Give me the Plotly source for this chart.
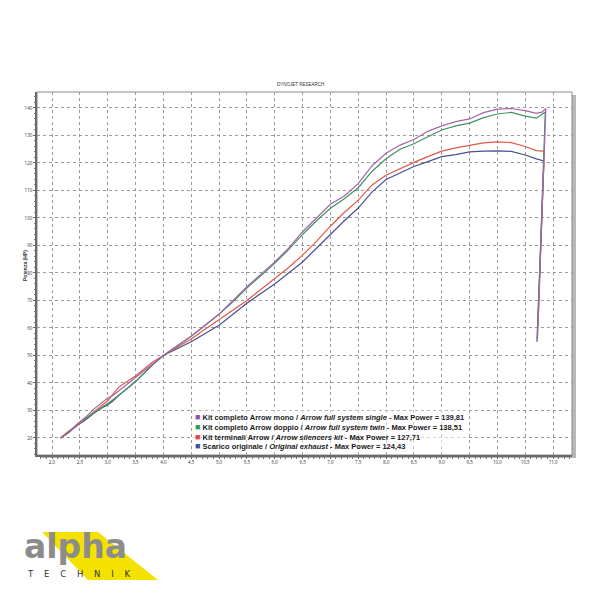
import plotly.graph_objects as go

# ---- data ----
rpm_main = [2.15, 2.3, 2.45, 2.6, 2.75, 2.9, 3.0, 3.1, 3.2, 3.35, 3.5, 3.65, 3.8, 4.0,
            4.25, 4.5, 4.75, 5.0, 5.25, 5.5, 5.75, 6.0, 6.25, 6.5, 6.75, 7.0, 7.25, 7.5,
            7.75, 8.0, 8.25, 8.5, 8.75, 9.0, 9.25, 9.5, 9.75, 10.0, 10.25, 10.5, 10.7]

mono_x = rpm_main + [10.8, 10.87, 10.72]
mono_y = [20, 22, 25, 27.5, 30.5, 33, 34.5, 35.5, 37, 39.5, 42, 44.5, 47, 50,
          53.5, 57, 61, 65, 70, 75, 79.5, 84, 89, 95, 100, 105, 108, 112.5,
          119, 123.5, 126.5, 128.5, 131.5, 133.5, 135, 136, 138.3, 139.6, 139.8, 139, 138,
          138.5, 139.8, 56]

doppio_x = rpm_main + [10.8, 10.86, 10.72]
doppio_y = [20, 22, 25, 27, 29, 31, 32.5, 34, 35.5, 38, 40.5, 43.5, 46.5, 50,
            53.5, 57, 61, 65, 69.5, 74.5, 79, 83.5, 88.5, 94, 99, 103.5, 107, 111,
            117, 121.5, 125, 127, 129.5, 132, 133.5, 134.5, 136.5, 137.8, 138.4, 137, 136.3,
            137.5, 138.5, 58]

terminali_x = rpm_main + [10.82, 10.84, 10.73]
terminali_y = [20, 22.5, 24.5, 27, 29.5, 32, 33.5, 36, 38.5, 40.5, 42.5, 45, 47.5, 50,
               53, 56, 59.5, 63, 66.5, 70, 74, 78, 82, 86.5, 91.5, 97, 102, 106.5,
               112, 115.5, 118, 120.2, 122.3, 124.3, 125.5, 126.5, 127.3, 127.7, 127.4, 126, 124.5,
               124.3, 124, 61]

originale_x = rpm_main + [10.82, 10.835, 10.71]
originale_y = [20, 22, 24.5, 26.5, 29, 31, 32, 33.5, 35.5, 38, 40.5, 43.5, 46.5, 50,
               52.5, 55, 58, 61, 65, 69, 72.5, 76, 80, 84, 89, 94, 99, 103.6,
               109.5, 114, 116.5, 118.7, 120.5, 122.3, 123, 124, 124.3, 124.4, 124.2, 122.9, 121.5,
               120.8, 120.3, 55]

series_names = [
    "Kit completo Arrow mono / <i>Arrow full system single</i> - Max Power = 139,81",
    "Kit completo Arrow doppio / <i>Arrow full system twin</i> - Max Power = 138,51",
    "Kit terminali Arrow / <i>Arrow silencers kit</i> - Max Power = 127,71",
    "Scarico originale / <i>Original exhaust</i> - Max Power = 124,43",
]
line_colors = ["#a565a8", "#3f9463", "#df5a48", "#4a4f92"]
legend_colors = ["#9c509f", "#2f9a5c", "#e24848", "#4353a3"]

x_ticks = [2.0 + 0.5 * i for i in range(19)]
x_ticktext = [f"{v:.1f}".replace(".", ",") for v in x_ticks]
y_ticks = list(range(20, 150, 10))

fig = go.Figure()
data = [(originale_x, originale_y, 3), (terminali_x, terminali_y, 2),
        (doppio_x, doppio_y, 1), (mono_x, mono_y, 0)]
for xs, ys, idx in data:
    fig.add_trace(go.Scatter(x=xs, y=ys, mode="lines", name=series_names[idx],
                             line=dict(color=line_colors[idx], width=1.2),
                             showlegend=False, hoverinfo="skip"))

OFF = 8  # page body margin
W = H = 600
L = 37 - OFF
T = 92 - OFF
R = W - (572 - OFF)
B = H - (455 - OFF)
pw = W - L - R
ph = H - T - B

def px_x(px):
    return (px - OFF - L) / pw

def px_y(py):
    return (H - B - (py - OFF)) / ph

shapes = [
    dict(type="rect", xref="paper", yref="paper", x0=px_x(40), x1=px_x(576),
         y0=px_y(458), y1=px_y(95), line=dict(width=0), fillcolor="#b8b8b8", layer="below"),
    dict(type="rect", xref="paper", yref="paper", x0=0, x1=1, y0=0, y1=1,
         line=dict(color="#8a8a8a", width=1), fillcolor="white", layer="below"),
    dict(type="path", xref="paper", yref="paper",
         path=f"M {px_x(42)},{px_y(532)} L {px_x(98)},{px_y(532)} L {px_x(158)},{px_y(580)} "
              f"L {px_x(88)},{px_y(580)} Z",
         fillcolor="#f5e100", line=dict(width=0), layer="above"),
]

legend_lines = "<br>".join(
    f"<span style='color:{c};font-size:9px'>■</span> {n}" for c, n in zip(legend_colors, series_names))

nb = "\u00a0" * 4
annotations = [
    dict(text="DYNOJET RESEARCH", xref="paper", yref="paper", x=px_x(300), y=px_y(84),
         xanchor="center", yanchor="middle",
         showarrow=False, font=dict(size=4.5, color="#333", family="Liberation Sans")),
    dict(text="<b>Potenza (HP)</b>", xref="paper", yref="paper", x=px_x(25), y=px_y(266),
         xanchor="center", yanchor="middle",
         textangle=-90, showarrow=False, font=dict(size=5, color="#333", family="Liberation Sans")),
    dict(text=f"<b>{legend_lines}</b>", xref="paper", yref="paper", x=px_x(193), y=px_y(410),
         xanchor="left", yanchor="top", align="left", showarrow=False,
         bgcolor="rgba(255,255,255,0.55)",
         font=dict(size=7.5, color="#1a1a1a", family="Liberation Sans")),
    dict(text="<b>alpha</b>", xref="paper", yref="paper", x=px_x(75), y=px_y(546),
         xanchor="center", yanchor="middle",
         showarrow=False, font=dict(size=33, color="#8c8c8c", family="DejaVu Sans")),
    dict(text=nb.join("TECHNIK"),
         xref="paper", yref="paper", x=px_x(79), y=px_y(574),
         xanchor="center", yanchor="middle",
         showarrow=False, font=dict(size=8.5, color="#333", family="DejaVu Sans")),
]

fig.update_layout(
    width=W, height=H,
    margin=dict(l=L, r=R, t=T, b=B),
    paper_bgcolor="white",
    plot_bgcolor="rgba(0,0,0,0)",
    shapes=shapes,
    annotations=annotations,
    showlegend=False,
    xaxis=dict(range=[1.73, 11.34], tickvals=x_ticks, ticktext=x_ticktext,
               tickfont=dict(size=4.5, color="#333"), showgrid=True,
               gridcolor="#9a9a9a", griddash="dot", gridwidth=1,
               showline=True, linecolor="#6a6a6a", linewidth=2,
               ticks="outside", ticklen=2, tickcolor="#666",
               minor=dict(dtick=0.1, ticks="outside", ticklen=1.5, tickcolor="#777", showgrid=False),
               zeroline=False, fixedrange=True),
    yaxis=dict(range=[13.8, 145.8], tickvals=y_ticks,
               tickfont=dict(size=4.5, color="#333"), showgrid=True,
               gridcolor="#9a9a9a", griddash="dot", gridwidth=1,
               showline=True, linecolor="#6a6a6a", linewidth=1.5,
               ticks="outside", ticklen=2, tickcolor="#666",
               minor=dict(dtick=2, ticks="outside", ticklen=1.5, tickcolor="#777", showgrid=False),
               zeroline=False, fixedrange=True),
)

fig.write_html("out.html")
